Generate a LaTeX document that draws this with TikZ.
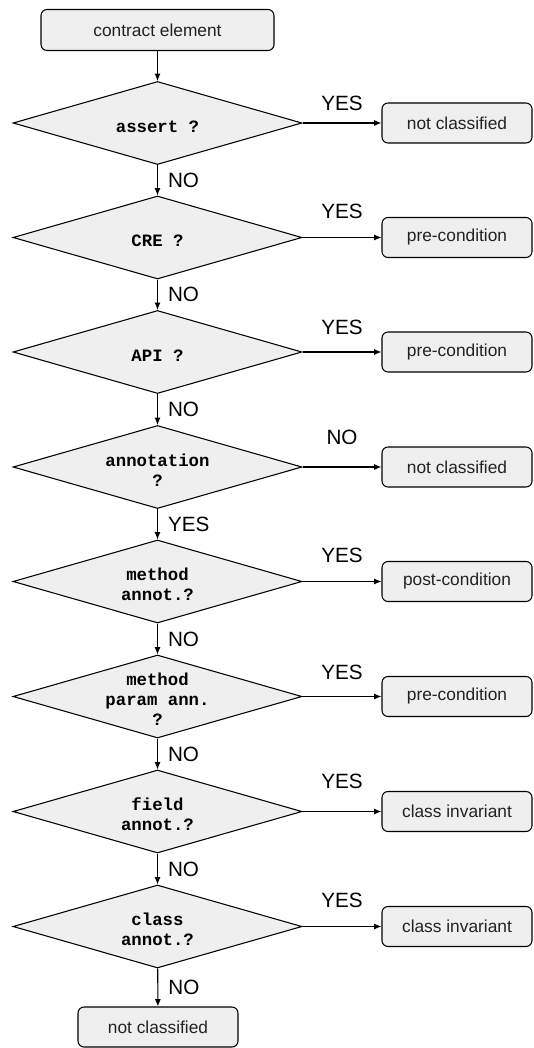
\documentclass[tikz,border=0pt]{standalone}
\usepackage{fontspec}
\setmainfont{Liberation Sans}
\setmonofont{Liberation Mono}
\usepackage{tikz}
\usetikzlibrary{shapes.geometric, arrows.meta, positioning}

\newcommand{\asklines}[1]{\raisebox{-7pt}[0pt][0pt]{\begin{tabular}[c]{@{}c@{}}#1\end{tabular}}}

\begin{document}
\begin{tikzpicture}[x=0.75pt, y=-0.75pt, line width=0.8pt, font=\fontsize{13}{15}\selectfont,
  box/.style={draw, rounded corners=4.5pt, fill=boxgray, text=inkgray, minimum width=112.5pt, minimum height=30pt, inner sep=0pt},
  decision/.style={draw, diamond, shape aspect=3.5, fill=boxgray, minimum width=216.75pt, minimum height=62.25pt, inner sep=0pt, font=\fontsize{13}{15}\selectfont\ttfamily\bfseries},
  lab/.style={font=\fontsize{15.5}{18}\selectfont, inner sep=0pt},
  flow/.style={-{Latex[length=5.5pt, width=4.5pt]}}]
  \definecolor{boxgray}{HTML}{EFEFEF}
  \definecolor{inkgray}{HTML}{222222}

  \useasboundingbox (0,0) rectangle (533,1048);

  \node[box, minimum width=174.75pt, minimum height=30.75pt] (elem) at (157.5, 30) {contract element};

  \node[decision] (assert) at (157.5, 123) {\asklines{assert ?}};
  \node[decision] (cre) at (157.5, 237.5) {\asklines{CRE ?}};
  \node[decision] (api) at (157.5, 352) {\asklines{API ?}};
  \node[decision] (annot) at (157.5, 467) {\asklines{annotation\\?}};
  \node[decision] (method) at (157.5, 581.5) {\asklines{method\\annot.?}};
  \node[decision] (param) at (157.5, 696.5) {\asklines{method\\param ann.\\?}};
  \node[decision] (field) at (157.5, 811.5) {\asklines{field\\annot.?}};
  \node[decision] (cls) at (157.5, 926.5) {\asklines{class\\annot.?}};

  \node[box, minimum width=120pt] (rest) at (158, 1027) {not classified};

  \node[box] (assertres) at (457, 123) {not classified};
  \node[box] (creres) at (457, 237.5) {pre-condition};
  \node[box] (apires) at (457, 352) {pre-condition};
  \node[box] (annotres) at (457, 467) {not classified};
  \node[box] (methodres) at (457, 581.5) {post-condition};
  \node[box] (paramres) at (457, 696.5) {pre-condition};
  \node[box] (fieldres) at (457, 811.5) {class invariant};
  \node[box] (clsres) at (457, 926.5) {class invariant};

  \draw[flow] (elem) -- (assert);
  \draw[flow] (assert) -- node[lab, right=7.5pt] {NO} (cre);
  \draw[flow] (cre) -- node[lab, right=7.5pt] {NO} (api);
  \draw[flow] (api) -- node[lab, right=7.5pt] {NO} (annot);
  \draw[flow] (annot) -- node[lab, right=7.5pt] {YES} (method);
  \draw[flow] (method) -- node[lab, right=7.5pt] {NO} (param);
  \draw[flow] (param) -- node[lab, right=7.5pt] {NO} (field);
  \draw[flow] (field) -- node[lab, right=7.5pt] {NO} (cls);
  \draw[flow] (cls) -- node[lab, right=7.5pt] {NO} (rest);

  \draw[flow] (assert) -- node[lab, above=8.8pt] {YES} (assertres);
  \draw[flow] (cre) -- node[lab, above=13.5pt] {YES} (creres);
  \draw[flow] (api) -- node[lab, above=12.5pt] {YES} (apires);
  \draw[flow] (annot) -- node[lab, above=16.5pt] {NO} (annotres);
  \draw[flow] (method) -- node[lab, above=14pt] {YES} (methodres);
  \draw[flow] (param) -- node[lab, above=12pt] {YES} (paramres);
  \draw[flow] (field) -- node[lab, above=16.5pt] {YES} (fieldres);
  \draw[flow] (cls) -- node[lab, above=14pt] {YES} (clsres);
\end{tikzpicture}
\end{document}
